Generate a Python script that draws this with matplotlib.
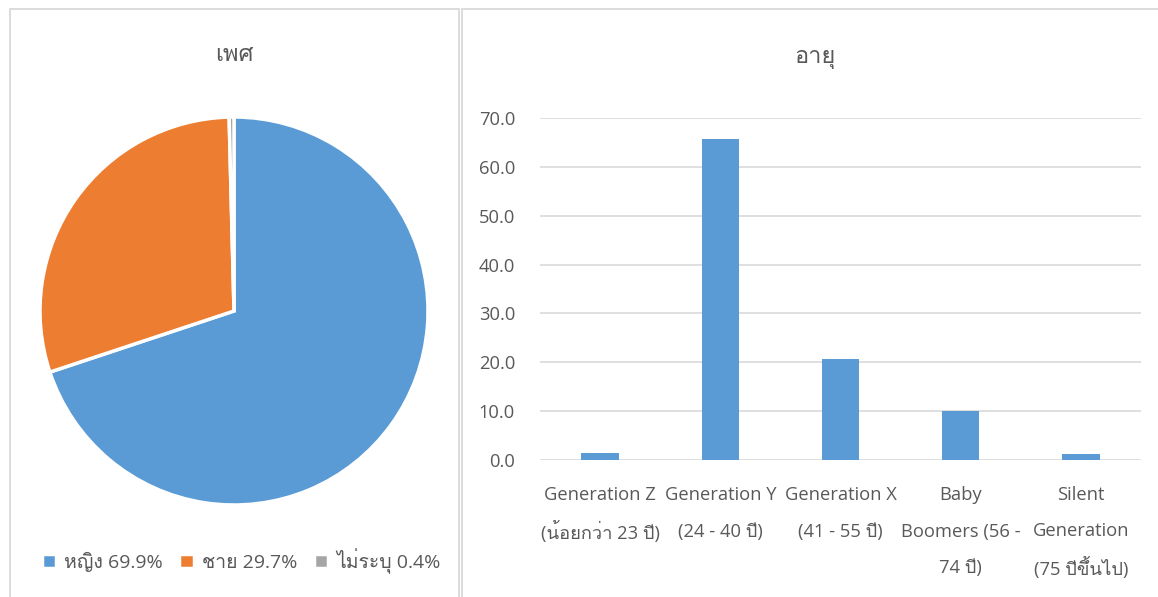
import matplotlib
matplotlib.use("Agg")
import matplotlib.pyplot as plt
from matplotlib import font_manager as fm
from matplotlib.patches import Rectangle
from fontTools.ttLib import TTFont

# pick any installed font that has Thai glyphs
thai_font = None
for f in fm.fontManager.ttflist:
    try:
        tt = TTFont(f.fname, fontNumber=0, lazy=True)
        cmap = tt.getBestCmap()
        if cmap and 0x0E2B in cmap and 0x0E0D in cmap:
            thai_font = f.name
            break
    except Exception:
        pass

fams = ['Open Sans', 'DejaVu Sans']
if thai_font:
    fams = ['Open Sans', thai_font, 'DejaVu Sans']
plt.rcParams['font.family'] = fams

# data
sex_labels = ['หญิง 69.9%', 'ชาย 29.7%', 'ไม่ระบุ 0.4%']
sex_values = [69.9, 29.7, 0.4]
sex_colors = ['#5b9bd5', '#ed7d31', '#a5a5a5']

age_labels = ['Generation Z\n(น้อยกว่า 23 ปี)', 'Generation Y\n(24 - 40 ปี)',
              'Generation X\n(41 - 55 ปี)', 'Baby\nBoomers (56 -\n74 ปี)',
              'Silent\nGeneration\n(75 ปีขึ้นไป)']
age_values = [1.4, 65.7, 20.7, 10.0, 1.2]
yticks = [0, 10, 20, 30, 40, 50, 60, 70]

W, H = 1158, 597
fig = plt.figure(figsize=(W / 100, H / 100), dpi=100)
txt = '#595959'
border = '#d9d9d9'

# panel borders
for x0, x1 in [(10, 459), (462, 1162)]:
    fig.patches.append(Rectangle((x0 / W, -0.05), (x1 - x0) / W, (H - 9) / H + 0.05,
                                 transform=fig.transFigure, fill=False,
                                 edgecolor=border, linewidth=1.3))

# pie
R = 194
pie_ax = fig.add_axes([(234 - R) / W, (H - 311 - R) / H, 2 * R / W, 2 * R / H])
wedges, _ = pie_ax.pie(sex_values, colors=sex_colors, startangle=90, counterclock=False,
                       wedgeprops=dict(edgecolor='white', linewidth=2.5))
pie_ax.set_xlim(-1, 1)
pie_ax.set_ylim(-1, 1)
pie_ax.set_aspect('equal')
fig.text(234 / W, 1 - 55 / H, 'เพศ', ha='center', va='center', fontsize=17, color=txt)
leg = fig.legend(wedges, sex_labels, loc='center', bbox_to_anchor=(241 / W, 1 - 561 / H),
                 ncol=3, frameon=False, fontsize=14, handlelength=0.75, handleheight=0.75,
                 handletextpad=0.4, columnspacing=0.85, labelcolor=txt)

# bar chart
ax = fig.add_axes([540 / W, 137 / H, 601 / W, 342 / H])
x = range(len(age_values))
ax.bar(x, age_values, width=0.31, color='#5b9bd5', zorder=3)
ax.set_xlim(-0.5, len(age_values) - 0.5)
ax.set_ylim(0, 70)
ax.set_yticks(yticks)
ax.set_yticklabels([f'{v:.1f}' for v in yticks])
ax.set_xticks(list(x))
ax.set_xticklabels([])
# category labels one line at a time so Thai marks don't stretch the spacing
for i, lab in enumerate(age_labels):
    for j, line in enumerate(lab.split('\n')):
        ax.annotate(line, xy=(i, 0), xycoords=('data', 'axes fraction'),
                    xytext=(0, -(35 + 36.5 * j) * 0.72), textcoords='offset points',
                    ha='center', va='center', fontsize=13.2, color=txt)
ax.grid(axis='y', color='#d9d9d9', linewidth=1.2, zorder=0)
for s in ax.spines.values():
    s.set_visible(False)
ax.tick_params(length=0, labelsize=13.2, colors=txt)
ax.tick_params(axis='y', pad=18)
for lbl in ax.get_yticklabels():
    lbl.set_horizontalalignment('right')
fig.text(815 / W, 1 - 57 / H, 'อายุ', ha='center', va='center', fontsize=17, color=txt)

fig.savefig('out.png', dpi=100)
